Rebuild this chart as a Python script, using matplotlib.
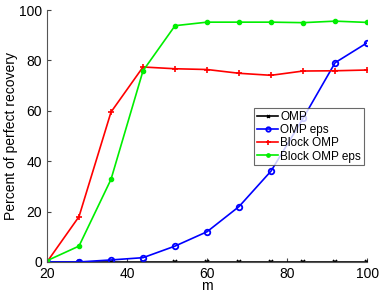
import matplotlib
matplotlib.use("Agg")
import matplotlib.pyplot as plt

plt.rcParams['font.family'] = ['Liberation Sans', 'DejaVu Sans']

m = [20, 28, 36, 44, 52, 60, 68, 76, 84, 92, 100]
omp = [0, 0, 0, 0, 0, 0, 0, 0, 0, 0, 0]
omp_eps = [0, 0, 0.8, 1.7, 6.3, 12.0, 22.0, 36.1, 57.0, 79.1, 87.0]
block_omp = [0, 18.0, 59.5, 77.4, 76.7, 76.4, 74.9, 74.1, 75.8, 75.9, 76.2]
block_omp_eps = [0.5, 6.3, 32.8, 75.9, 93.8, 95.2, 95.2, 95.2, 95.0, 95.6, 95.1]

fig = plt.figure(figsize=(3.82, 2.96), dpi=100)
ax = fig.add_axes([0.123, 0.115, 0.838, 0.851])

ax.plot(m, omp, color="black", marker="x", markersize=2.5, markeredgewidth=1.2,
        linewidth=1.2, label="OMP")
ax.plot(m, omp_eps, color="blue", marker="o", markersize=4, markerfacecolor="none",
        markeredgewidth=1.3, linewidth=1.2, label="OMP eps")
ax.plot(m, block_omp, color="red", marker="+", markersize=4.5, markeredgewidth=1.2,
        linewidth=1.2, label="Block OMP")
ax.plot(m, block_omp_eps, color="#00ee00", marker=".", markersize=6, linewidth=1.2,
        label="Block OMP eps")

ax.set_xlim(20, 100)
ax.set_ylim(0, 100)
ax.set_xticks([20, 40, 60, 80, 100])
ax.set_yticks([0, 20, 40, 60, 80, 100])
ax.tick_params(direction="in", labelsize=10, length=3, colors="#444444", labelcolor="black")
for s in ["top", "right"]:
    ax.spines[s].set_visible(False)
for s in ["left", "bottom"]:
    ax.spines[s].set_color("#555555")

ax.set_xlabel("m", fontsize=10, labelpad=-1)
ax.set_ylabel("Percent of perfect recovery", fontsize=10, labelpad=1)

leg = ax.legend(loc="upper left", bbox_to_anchor=(0.647, 0.611), fontsize=8.5,
                frameon=True, fancybox=False, handlelength=1.8, handletextpad=0.15,
                borderpad=0.25, labelspacing=0.1, borderaxespad=0, markerscale=0.8)
leg.get_frame().set_edgecolor("#444444")
leg.get_frame().set_linewidth(0.8)

fig.savefig("out.png", dpi=100)
